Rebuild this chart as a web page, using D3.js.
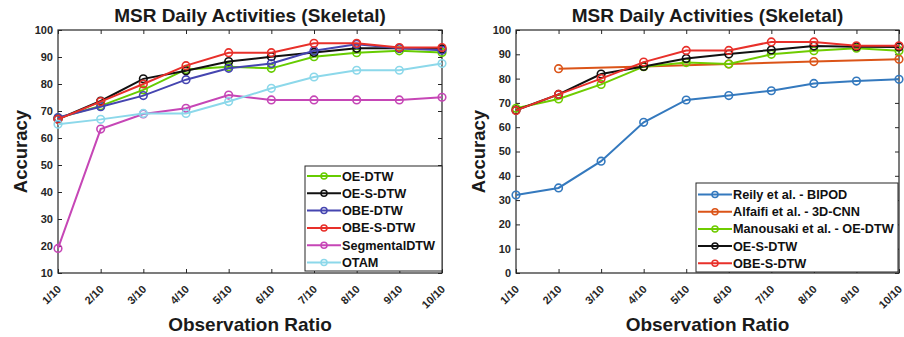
<!DOCTYPE html>
<html>
<head>
<meta charset="utf-8">
<script src="https://cdn.jsdelivr.net/npm/d3@7"></script>
<style>
  body { margin: 0; background: #fff; }
  svg text { font-family: "Liberation Sans", Arial, sans-serif; font-weight: bold; fill: #262626; }
</style>
</head>
<body>
<div id="chart"></div>
<script>
// ---- data ----
var ratios = ["1/10","2/10","3/10","4/10","5/10","6/10","7/10","8/10","9/10","10/10"];
var yTicksLeft  = [10,20,30,40,50,60,70,80,90,100];
var yTicksRight = [0,10,20,30,40,50,60,70,80,90,100];

// left panel
var oeDtw        = [67.4, 71.9, 77.8, 85.4, 86.4, 85.8, 90.1, 91.6, 92.3, 91.7];
var oeSDtw       = [67.0, 73.7, 81.9, 84.9, 88.3, 90.1, 91.7, 93.2, 93.2, 93.0];
var obeDtw       = [67.6, 71.6, 75.7, 81.6, 85.8, 87.6, 92.3, 94.7, 93.2, 92.5];
var obeSDtw      = [66.9, 73.5, 80.0, 86.8, 91.6, 91.6, 95.1, 95.1, 93.5, 93.5];
var segmentalDtw = [19.1, 63.3, 68.9, 71.0, 75.9, 74.1, 74.1, 74.1, 74.1, 75.1];
var otam         = [65.1, 66.9, 69.1, 69.1, 73.5, 78.4, 82.6, 85.1, 85.1, 87.6];

// right panel
var reilyBipod     = [32.1, 35.0, 46.0, 62.0, 71.2, 73.0, 75.0, 78.0, 79.0, 79.7];
var alfaifi3dCnn   = [null, 84.1, null, 85.0, null, 86.0, null, 87.0, null, 88.0];
var manousakiOeDtw = [67.8, 71.6, 77.6, 84.9, 86.6, 86.0, 90.0, 91.5, 92.5, 91.5];
var oeSDtwR        = [67.0, 73.5, 81.9, 85.0, 88.3, 90.1, 91.8, 93.4, 93.1, 93.0];
var obeSDtwR       = [66.9, 73.5, 80.0, 86.8, 91.6, 91.6, 95.1, 95.1, 93.5, 93.5];

var leftSeries = [
  {name: "OE-DTW",        color: "#66cc00", values: oeDtw},
  {name: "OE-S-DTW",      color: "#111111", values: oeSDtw},
  {name: "OBE-DTW",       color: "#4545b0", values: obeDtw},
  {name: "OBE-S-DTW",     color: "#e8302a", values: obeSDtw},
  {name: "SegmentalDTW",  color: "#c646b6", values: segmentalDtw},
  {name: "OTAM",          color: "#8cd8ea", values: otam}
];
var rightSeries = [
  {name: "Reily et al. - BIPOD",       color: "#3479be", values: reilyBipod},
  {name: "Alfaifi et al. - 3D-CNN",    color: "#db5418", values: alfaifi3dCnn},
  {name: "Manousaki et al. - OE-DTW",  color: "#6fcc00", values: manousakiOeDtw},
  {name: "OE-S-DTW",                   color: "#111111", values: oeSDtwR},
  {name: "OBE-S-DTW",                  color: "#e8302a", values: obeSDtwR}
];

var svg = d3.select("#chart").append("svg")
    .attr("width", 904).attr("height", 337);

function panel(o) {
  var g = svg.append("g");
  var x = d3.scalePoint().domain(ratios).range([o.x0, o.x1]);
  var y = d3.scaleLinear().domain(o.yDomain).range([o.y1, o.y0]);
  var axisCol = "#262626";

  // box
  g.append("rect")
    .attr("x", o.x0).attr("y", o.y0)
    .attr("width", o.x1 - o.x0).attr("height", o.y1 - o.y0)
    .attr("fill", "none").attr("stroke", axisCol).attr("stroke-width", 1.2);

  // inward ticks (bottom/top/left/right)
  var tl = 4;
  g.append("g").attr("transform", "translate(0," + o.y1 + ")")
    .call(d3.axisBottom(x).tickSizeInner(-tl).tickSizeOuter(0).tickFormat(""))
    .call(function(s){ s.select(".domain").remove(); s.selectAll("line").attr("stroke", axisCol); });
  g.append("g").attr("transform", "translate(0," + o.y0 + ")")
    .call(d3.axisTop(x).tickSizeInner(-tl).tickSizeOuter(0).tickFormat(""))
    .call(function(s){ s.select(".domain").remove(); s.selectAll("line").attr("stroke", axisCol); });
  g.append("g").attr("transform", "translate(" + o.x0 + ",0)")
    .call(d3.axisLeft(y).tickValues(o.yTicks).tickSizeInner(-tl).tickSizeOuter(0).tickFormat(""))
    .call(function(s){ s.select(".domain").remove(); s.selectAll("line").attr("stroke", axisCol); });
  g.append("g").attr("transform", "translate(" + o.x1 + ",0)")
    .call(d3.axisRight(y).tickValues(o.yTicks).tickSizeInner(-tl).tickSizeOuter(0).tickFormat(""))
    .call(function(s){ s.select(".domain").remove(); s.selectAll("line").attr("stroke", axisCol); });

  // y tick labels
  g.selectAll(".ylab").data(o.yTicks).enter().append("text")
    .attr("x", o.x0 - 5).attr("y", function(d){ return y(d); })
    .attr("dy", "0.36em").attr("text-anchor", "end")
    .style("font-size", "11px").text(function(d){ return d; });

  // x tick labels, rotated
  g.selectAll(".xlab").data(ratios).enter().append("text")
    .attr("transform", function(d){ return "translate(" + (x(d) + 1) + "," + (o.y1 + 14) + ") rotate(-45)"; })
    .attr("dy", "0.36em").attr("text-anchor", "end")
    .style("font-size", "11px").text(function(d){ return d; });

  // titles
  var cx = (o.x0 + o.x1) / 2;
  g.append("text").attr("x", cx).attr("y", 22).attr("text-anchor", "middle")
    .style("font-size", "19px").style("fill", "#1a1a1a").text("MSR Daily Activities (Skeletal)");
  g.append("text").attr("x", cx).attr("y", 331).attr("text-anchor", "middle")
    .style("font-size", "19px").style("fill", "#1a1a1a").text("Observation Ratio");
  g.append("text")
    .attr("transform", "translate(" + (o.x0 - 31) + "," + ((o.y0 + o.y1) / 2) + ") rotate(-90)")
    .attr("text-anchor", "middle")
    .style("font-size", "18.5px").style("fill", "#1a1a1a").text("Accuracy");

  // series
  var line = d3.line().x(function(d){ return x(d.r); }).y(function(d){ return y(d.v); });
  o.series.forEach(function(s) {
    var pts = s.values.map(function(v, i){ return {r: ratios[i], v: v}; })
      .filter(function(d){ return d.v != null; });
    g.append("path").datum(pts).attr("d", line)
      .attr("fill", "none").attr("stroke", s.color).attr("stroke-width", 2);
    g.selectAll(null).data(pts).enter().append("circle")
      .attr("cx", function(d){ return x(d.r); }).attr("cy", function(d){ return y(d.v); })
      .attr("r", 3.8).attr("fill", "none").attr("stroke", s.color).attr("stroke-width", 1.6);
  });

  // legend
  var lg = g.append("g");
  lg.append("rect").attr("x", o.lx0).attr("y", o.ly0)
    .attr("width", o.lx1 - o.lx0).attr("height", o.ly1 - o.ly0)
    .attr("fill", "#fff").attr("stroke", axisCol).attr("stroke-width", 1);
  o.series.forEach(function(s, i) {
    var ly = o.lyFirst + i * o.lyStep;
    lg.append("line").attr("x1", o.lx0 + 2).attr("x2", o.lx0 + 36)
      .attr("y1", ly).attr("y2", ly).attr("stroke", s.color).attr("stroke-width", 2);
    lg.append("circle").attr("cx", o.lx0 + 19).attr("cy", ly).attr("r", 3)
      .attr("fill", "none").attr("stroke", s.color).attr("stroke-width", 1.5);
    lg.append("text").attr("x", o.lx0 + 37).attr("y", ly).attr("dy", "0.36em")
      .style("font-size", "12.7px").style("fill", "#111").text(s.name);
  });
}

panel({x0: 58, x1: 442, y0: 30, y1: 273, yDomain: [10, 100], yTicks: yTicksLeft,
       series: leftSeries, lx0: 305, lx1: 442, ly0: 166, ly1: 271, lyFirst: 176, lyStep: 17.3});
panel({x0: 516, x1: 899, y0: 30, y1: 273, yDomain: [0, 100], yTicks: yTicksRight,
       series: rightSeries, lx0: 696, lx1: 898, ly0: 183, ly1: 272, lyFirst: 194.5, lyStep: 17.2});
</script>
</body>
</html>
